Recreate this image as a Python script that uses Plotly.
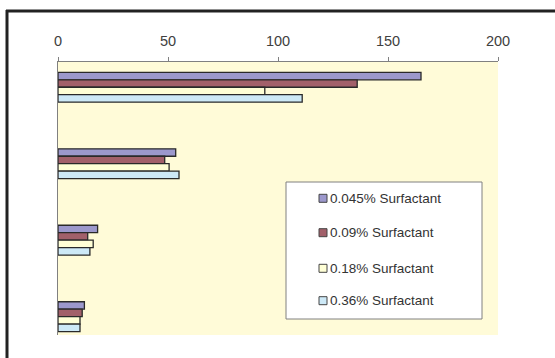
import plotly.graph_objects as go

categories = [0, 1, 2, 3]
series_names = ["0.045% Surfactant", "0.09% Surfactant", "0.18% Surfactant", "0.36% Surfactant"]
s045 = [165, 53.5, 18, 12]
s09 = [136, 48.5, 13.5, 11]
s18 = [94, 50.5, 16, 10]
s36 = [111, 55, 14.5, 10]
values = [s045, s09, s18, s36]
colors = ["#9C98CC", "#A2606A", "#FFFFD6", "#CDE9F7"]
x_ticks = [0, 50, 100, 150, 200]

fig = go.Figure()
for i, name in enumerate(series_names):
    fig.add_trace(go.Bar(
        y=categories, x=values[i], name=name, orientation="h",
        marker=dict(color=colors[i], line=dict(color="#2a2a2a", width=1.3)),
        showlegend=False,
    ))

W, H = 555, 358
L, R, T, B = 58, 57, 62, 23
pw, ph = W - L - R, H - T - B

def px_x(p):
    return (p - L) / pw

def px_y(p):
    return (H - B - p) / ph

shapes = [
    dict(type="rect", xref="paper", yref="paper",
         x0=px_x(286), x1=px_x(482), y0=px_y(182), y1=px_y(319),
         fillcolor="white", line=dict(color="#808080", width=1), layer="above"),
    dict(type="line", xref="paper", yref="paper",
         x0=px_x(6), x1=px_x(560), y0=px_y(11), y1=px_y(11),
         line=dict(color="#222222", width=3)),
    dict(type="line", xref="paper", yref="paper",
         x0=px_x(7), x1=px_x(7), y0=px_y(10), y1=px_y(362),
         line=dict(color="#222222", width=3)),
]
annotations = []
legend_y = [198.3, 232.7, 268.3, 300.7]
for i, name in enumerate(series_names):
    cy = legend_y[i]
    shapes.append(dict(type="rect", xref="paper", yref="paper",
                       x0=px_x(319), x1=px_x(327), y0=px_y(cy + 4), y1=px_y(cy - 4),
                       fillcolor=colors[i], line=dict(color="#444444", width=1), layer="above"))
    annotations.append(dict(text=name, xref="paper", yref="paper",
                            x=px_x(328), y=px_y(cy), xanchor="left", yanchor="middle",
                            showarrow=False,
                            font=dict(size=13.5, color="#333333",
                                      family="Liberation Sans, Arial, sans-serif")))

fig.update_layout(
    width=W, height=H,
    margin=dict(l=L, r=R, t=T, b=B),
    paper_bgcolor="white",
    plot_bgcolor="#FFFBD8",
    barmode="group",
    bargap=0.61,
    bargroupgap=0,
    font=dict(family="Liberation Sans, Arial, sans-serif", color="#404040"),
    xaxis=dict(
        side="top", range=[0, 200], tickvals=x_ticks,
        ticks="outside", ticklen=4, tickcolor="#808080",
        showline=True, linecolor="#808080", linewidth=1,
        showgrid=False, zeroline=False,
        tickfont=dict(size=14.5, color="#404040"),
        ticklabelstandoff=5,
    ),
    yaxis=dict(
        range=[3.24, -0.33], showticklabels=False, ticks="",
        showline=True, linecolor="#808080", linewidth=1,
        showgrid=False, zeroline=False,
    ),
    showlegend=False,
    shapes=shapes,
    annotations=annotations,
)

fig.write_html("out.html", config={"displayModeBar": False},
               post_script="document.body.style.margin='0';")
